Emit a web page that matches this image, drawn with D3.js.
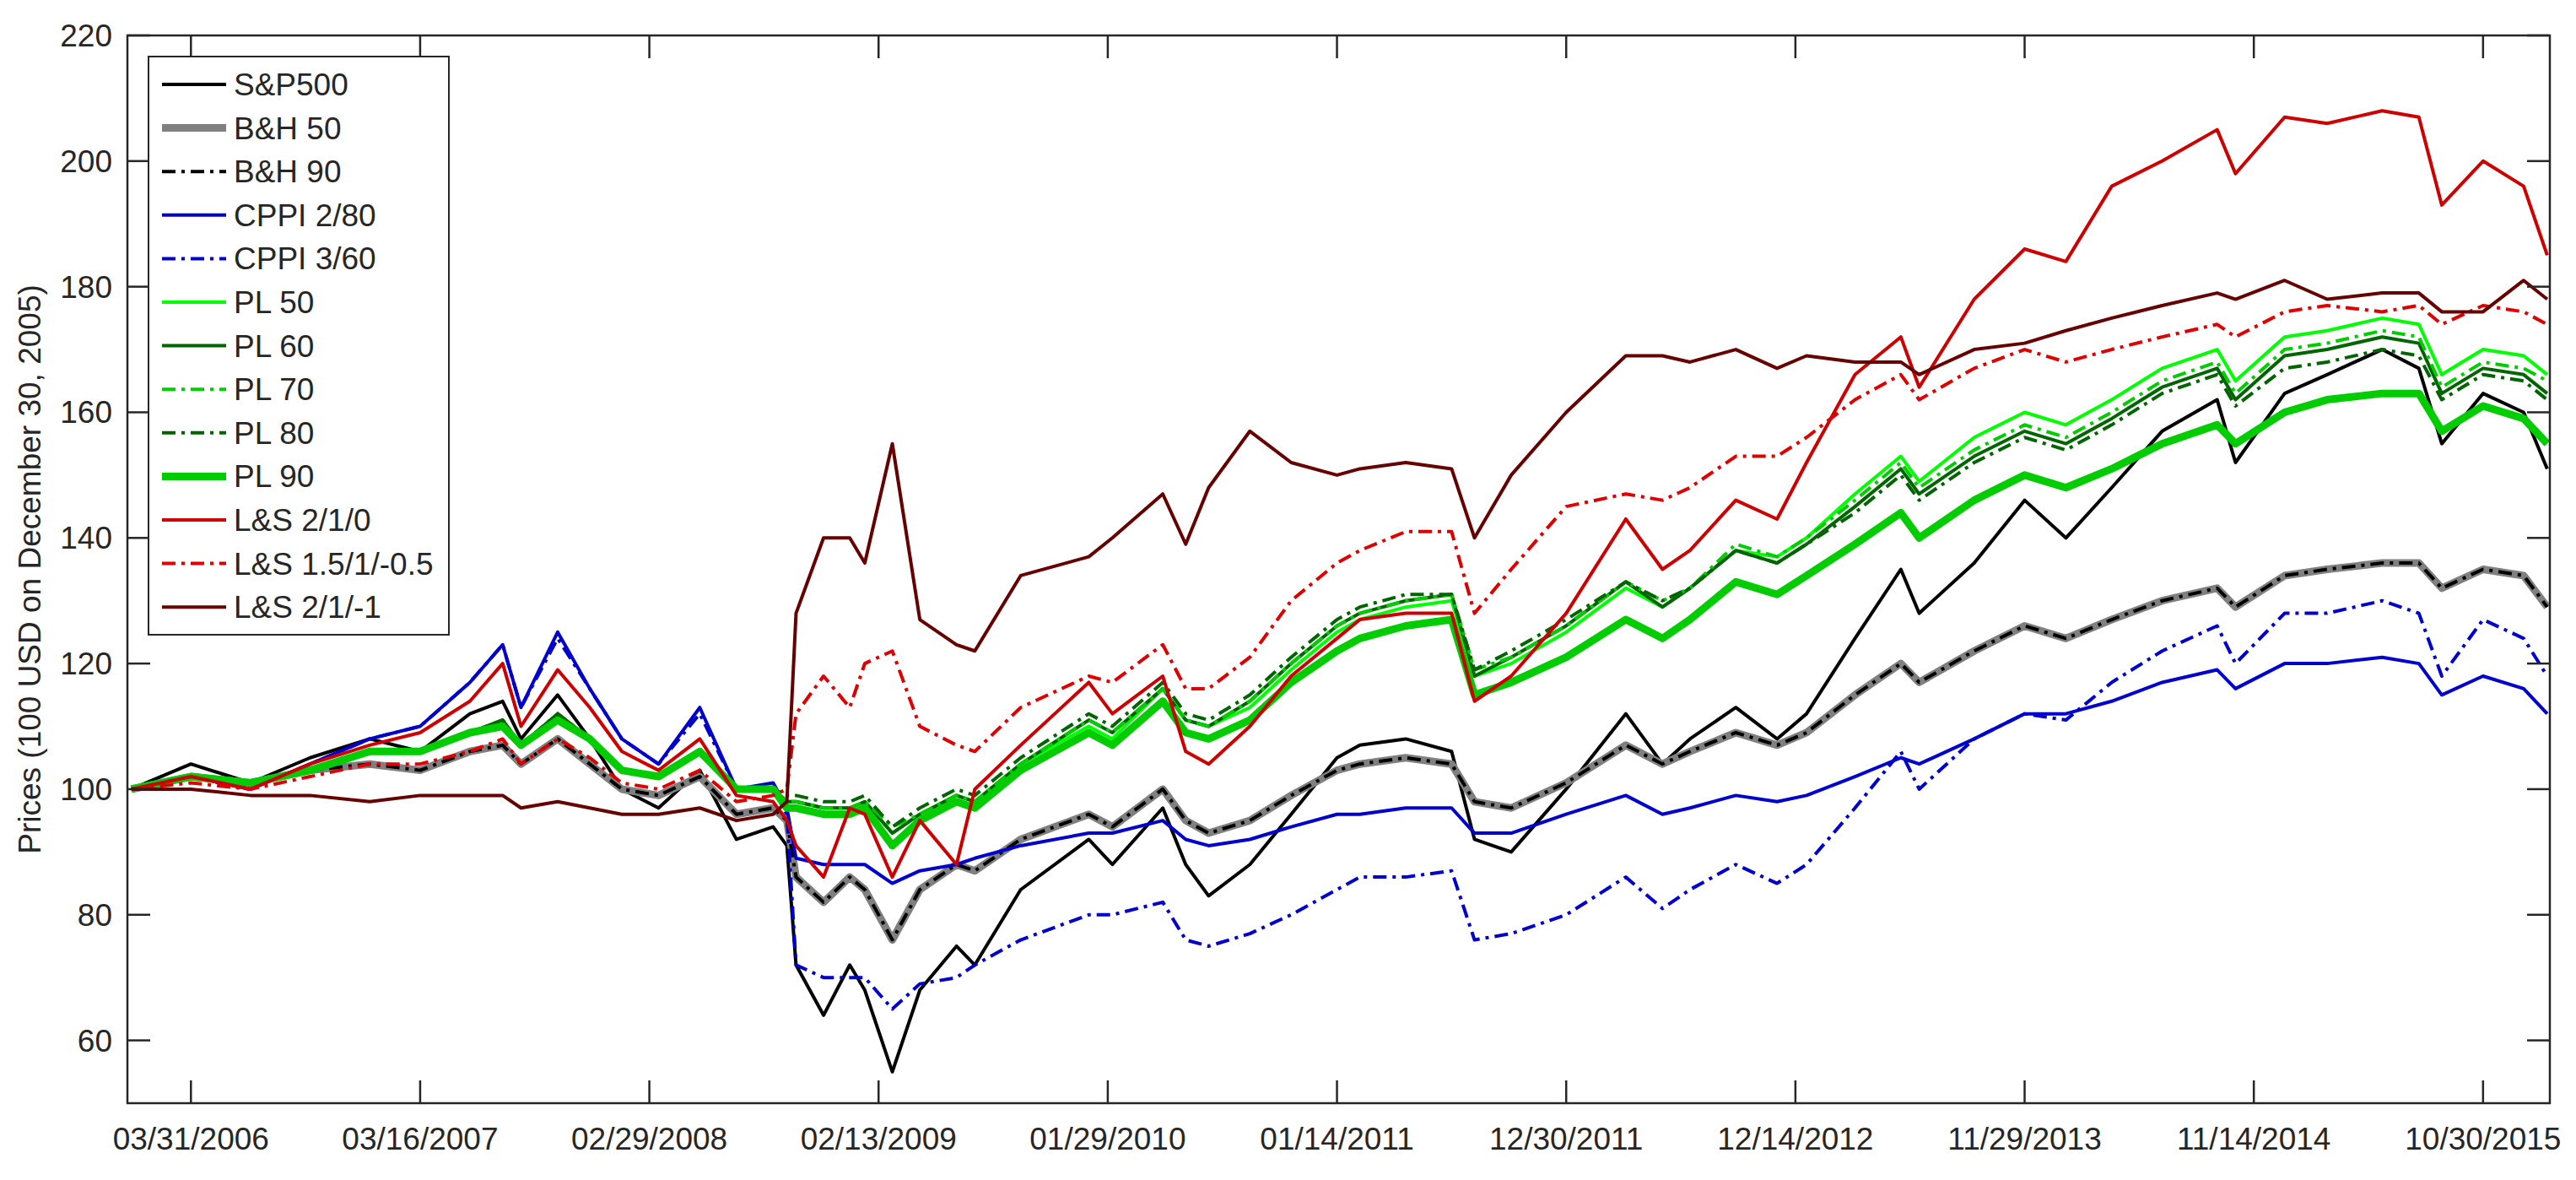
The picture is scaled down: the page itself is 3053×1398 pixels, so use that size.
<!DOCTYPE html>
<html>
<head>
<meta charset="utf-8">
<script src="https://cdn.jsdelivr.net/npm/d3@7"></script>
<style>
  body { margin: 0; background: #fff; }
  text { font-family: "Liberation Sans", Arial, sans-serif; fill: #262626; }
</style>
</head>
<body>
<svg id="chart" width="3053" height="1398"></svg>
<script>
// dates sampled from the chart
var dates = ["2005-12-30","2006-03-31","2006-06-30","2006-09-29","2006-12-29","2007-03-16","2007-05-31","2007-07-20",
  "2007-08-17","2007-10-12","2007-11-30","2008-01-18","2008-03-14","2008-05-16","2008-07-11","2008-09-05",
  "2008-09-26","2008-10-10","2008-11-21","2008-12-31","2009-01-23","2009-03-06","2009-04-17","2009-06-12",
  "2009-07-10","2009-09-18","2009-12-31","2010-02-05","2010-04-23","2010-05-28","2010-07-02","2010-09-03","2010-11-05",
  "2011-01-14","2011-02-18","2011-04-29","2011-07-08","2011-08-12","2011-10-07","2011-12-30",
  "2012-03-30","2012-05-25","2012-07-06","2012-09-14","2012-11-16","2012-12-31",
  "2013-03-15","2013-05-24","2013-06-21","2013-09-13","2013-11-29","2014-01-31",
  "2014-04-11","2014-06-27","2014-09-19","2014-10-17","2014-12-31",
  "2015-03-06","2015-05-29","2015-07-24","2015-08-28","2015-10-30","2015-12-31","2016-02-05"];

var sp500 = [100,104,101,105,108,106,112,114,108,115,108,100,97,103,92,94,
  91,72,64,72,68,55,68,75, 72,84,92,88,97,88,83,88,96, 105,107,108,106,92,90,100,
  112,104,108,113,108,112, 124,135,128,136,146,140, 148,157,162,152,163, 166,170,167,155,163,160,151];
var bh50 = [100,102,101,103,104,103,106,107,104,108,104,100,99,102,96,97,
  95,86,82,86,84,76,84,88, 87,92,96,94,100,95,93,95,99, 103,104,105,104,98,97,101,
  107,104,106,109,107,109, 115,120,117,122,126,124, 127,130,132,129,134, 135,136,136,132,135,134,129];
var bh90 = [100,102,101,103,104,103,106,107,104,108,104,100,99,102,96,97,
  95,86,82,86,84,76,84,88, 87,92,96,94,100,95,93,95,99, 103,104,105,104,98,97,101,
  107,104,106,109,107,109, 115,120,117,122,126,124, 127,130,132,129,134, 135,136,136,132,135,134,129];
var cppi280 = [100,102,100,104,108,110,117,123,113,125,116,108,104,113,100,101,
  97,89,88,88,88,85,87,88, 89,91,93,93,95,92,91,92,94, 96,96,97,97,93,93,96,
  99,96,97,99,98,99, 102,105,104,108,112,112, 114,117,119,116,120, 120,121,120,115,118,116,112];
var cppi360 = [100,102,100,104,108,110,117,123,113,124,116,108,104,112,100,100,
  96,72,70,70,70,65,69,70, 72,76,80,80,82,76,75,77,80, 84,86,86,87,76,77,80,
  86,81,84,88,85,88, 97,106,100,108,112,111, 117,122,126,120,128, 128,130,128,118,127,124,118];
var pl50 = [100,102,101,103,106,106,109,111,107,112,108,103,102,106,100,100,
  98,98,97,97,98,93,96,99, 98,104,110,108,116,111,110,113,119, 125,127,129,130,118,120,125,
  132,129,132,138,137,140, 147,153,149,156,160,158, 162,167,170,165,172, 173,175,174,166,170,169,166];
var pl60 = [100,102,101,103,106,106,109,111,107,112,108,103,102,106,100,100,
  98,98,97,97,98,93,96,99, 98,104,111,109,116,111,110,114,120, 126,128,130,131,118,121,126,
  133,129,132,138,136,139, 145,151,147,153,157,155, 159,164,167,162,169, 170,172,171,163,167,166,163];
var pl70 = [100,102,101,103,106,106,109,111,107,112,108,103,102,106,100,100,
  98,98,97,97,98,94,96,99, 98,104,111,109,116,111,110,114,120, 126,128,130,131,119,121,126,
  133,130,132,139,137,140, 146,152,148,154,158,156, 160,165,168,163,170, 171,173,172,164,168,167,165];
var pl80 = [100,102,101,103,106,106,109,111,107,112,108,103,102,106,100,100,
  99,99,98,98,99,94,97,100, 99,105,112,110,117,112,111,115,121, 127,129,131,131,119,122,127,
  133,130,132,138,136,139, 144,150,146,152,156,154, 158,163,166,161,167, 168,170,169,162,166,165,162];
var pl90 = [100,102,101,103,106,106,109,110,107,111,108,103,102,106,100,100,
  97,97,96,96,97,91,95,98, 97,103,109,107,114,109,108,111,117, 122,124,126,127,115,117,121,
  127,124,127,133,131,134, 139,144,140,146,150,148, 151,155,158,155,160, 162,163,163,157,161,159,155];
var ls210 = [100,102,100,104,107,109,114,120,110,119,113,106,103,108,99,98,
  95,91,86,97,96,86,95,88, 100,107,117,112,118,106,104,110,118, 124,127,128,128,114,118,128,
  143,135,138,146,143,152, 166,172,164,178,186,184, 196,200,205,198,207, 206,208,207,193,200,196,185];
var ls15 = [100,101,100,102,104,104,106,108,104,108,105,101,100,103,98,99,
  100,112,118,113,120,122,110,107, 106,113,118,117,123,116,116,121,130, 136,138,141,141,128,135,145,
  147,146,148,153,153,156, 162,166,162,167,170,168, 170,172,174,172,176, 177,176,177,174,177,176,174];
var ls21m1 = [100,100,99,99,98,99,99,99,97,98,97,96,96,97,95,96,
  98,128,140,140,136,155,127,123, 122,134,137,140,147,139,148,157,152, 150,151,152,151,140,150,160,
  169,169,168,170,167,169, 168,168,166,170,171,173, 175,177,179,178,181, 178,179,179,176,176,181,178];

var names = ["S&P500","B&H 50","B&H 90","CPPI 2/80","CPPI 3/60","PL 50","PL 60","PL 70","PL 80","PL 90",
  "L&S 2/1/0","L&S 1.5/1/-0.5","L&S 2/1/-1"];
var colors = ["#000000","#808080","#000000","#0000cc","#0000cc","#00ff00","#006400","#00cc00","#006400","#00cc00",
  "#cc0000","#dd0000","#660000"];
var tickDates = ["2006-03-31","2007-03-16","2008-02-29","2009-02-13","2010-01-29","2011-01-14",
  "2011-12-30","2012-12-14","2013-11-29","2014-11-14","2015-10-30"];
var yTicks = [60,80,100,120,140,160,180,200,220];

var values = [sp500,bh50,bh90,cppi280,cppi360,pl50,pl60,pl70,pl80,pl90,ls210,ls15,ls21m1];
var widths = [4,9,4,4,4,4,4,4,4,9,4,4,4];
var dashed = [false,false,true,false,true,false,false,true,true,false,false,true,false];

var parse = d3.timeParse("%Y-%m-%d");
var fmt = d3.timeFormat("%m/%d/%Y");
var L = 151, R = 3022, T = 42, B = 1307;

var svg = d3.select("#chart");
var x = d3.scaleTime().domain([parse("2005-12-24"), parse("2016-02-09")]).range([L, R]);
var y = d3.scaleLinear().domain([50, 220]).range([B, T]);

var plot = svg.append("g");
var line = d3.line().x(d => x(d.date)).y(d => y(d.v));

values.forEach(function (vals, i) {
  var pts = dates.map((d, k) => ({date: parse(d), v: vals[k]}));
  plot.append("path")
    .datum(pts)
    .attr("d", line)
    .attr("fill", "none")
    .attr("stroke", colors[i])
    .attr("stroke-width", widths[i])
    .attr("stroke-linejoin", "round")
    .attr("stroke-dasharray", dashed[i] ? "16,7,4,7" : null);
});

// axes (ticks inside, mirrored like the original)
var tks = tickDates.map(parse);
var ax = svg.append("g").attr("stroke", "#262626").attr("stroke-width", 2.5);
ax.append("rect").attr("x", L).attr("y", T).attr("width", R - L).attr("height", B - T).attr("fill", "none");
tks.forEach(function (t) {
  ax.append("line").attr("x1", x(t)).attr("x2", x(t)).attr("y1", B).attr("y2", B - 27);
  ax.append("line").attr("x1", x(t)).attr("x2", x(t)).attr("y1", T).attr("y2", T + 27);
});
yTicks.forEach(function (v) {
  ax.append("line").attr("x1", L).attr("x2", L + 27).attr("y1", y(v)).attr("y2", y(v));
  ax.append("line").attr("x1", R).attr("x2", R - 27).attr("y1", y(v)).attr("y2", y(v));
});

svg.append("g").selectAll("text").data(tks).join("text")
  .attr("x", d => x(d)).attr("y", 1362).attr("text-anchor", "middle")
  .attr("font-size", 37).text(d => fmt(d));
svg.append("g").selectAll("text").data(yTicks).join("text")
  .attr("x", 133).attr("y", d => y(d) + 13).attr("text-anchor", "end")
  .attr("font-size", 37).text(d => d);

svg.append("text")
  .attr("transform", "translate(48," + ((T + B) / 2) + ") rotate(-90)")
  .attr("text-anchor", "middle").attr("font-size", 37)
  .text("Prices (100 USD on December 30, 2005)");

// legend
var lg = svg.append("g");
lg.append("rect").attr("x", 176).attr("y", 67).attr("width", 356).attr("height", 685)
  .attr("fill", "#fff").attr("stroke", "#262626").attr("stroke-width", 2);
names.forEach(function (n, i) {
  var yy = 100 + i * 51.6;
  lg.append("line").attr("x1", 192).attr("x2", 268).attr("y1", yy).attr("y2", yy)
    .attr("stroke", colors[i]).attr("stroke-width", widths[i])
    .attr("stroke-dasharray", dashed[i] ? "16,7,4,7" : null);
  lg.append("text").attr("x", 277).attr("y", yy + 13).attr("font-size", 37).attr("fill", "#000").text(n);
});
</script>
</body>
</html>
